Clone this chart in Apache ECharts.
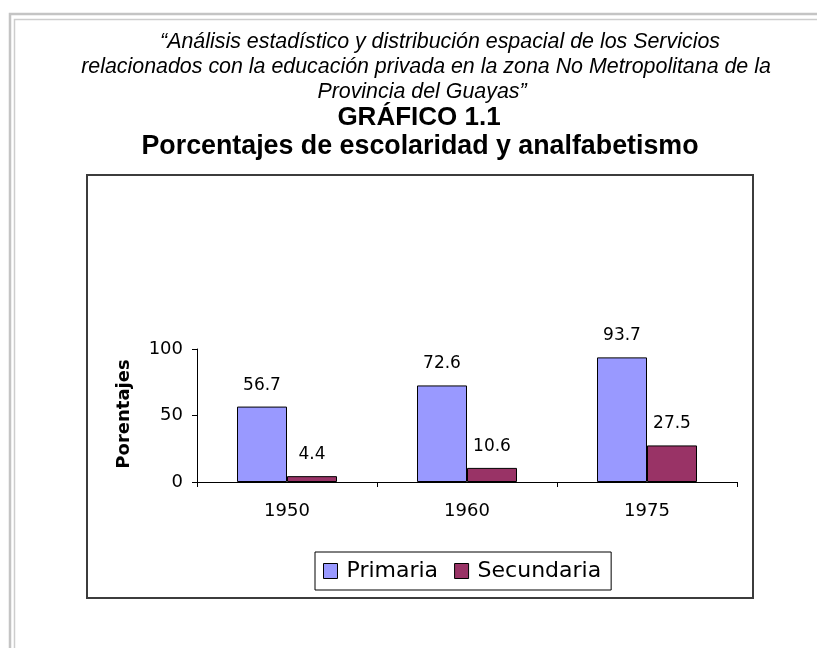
<!DOCTYPE html>
<html>
<head>
<meta charset="utf-8">
<script src="https://cdn.jsdelivr.net/npm/echarts@6/dist/echarts.min.js"></script>
<style>
html,body{margin:0;padding:0;background:#fff;}
#c{width:817px;height:648px;}
</style>
</head>
<body>
<div id="c"></div>
<script>
var categories = ['1950', '1960', '1975'];
var seriesNames = ['Primaria', 'Secundaria'];
var primaria = [56.7, 72.6, 93.7];
var secundaria = [4.4, 10.6, 27.5];
var yTicks = [0, 50, 100];
var titleLines = [
  '\u201CAn\u00E1lisis estad\u00EDstico y distribuci\u00F3n espacial de los Servicios',
  'relacionados con la educaci\u00F3n privada en la zona No Metropolitana de la',
  'Provincia del Guayas\u201D'
];
var heading1 = 'GR\u00C1FICO 1.1';
var heading2 = 'Porcentajes de escolaridad y analfabetismo';
var yTitle = 'Porentajes';

var chart = echarts.init(document.getElementById('c'), null, {renderer: 'canvas'});
var chartFont = 'DejaVu Sans';
var titleFont = '"Liberation Sans", Arial, sans-serif';

var option = {
  backgroundColor: '#ffffff',
  animation: false,
  graphic: [
    {type: 'polyline', shape: {points: [[10, 648], [10, 14], [817, 14]]}, style: {stroke: '#c4c4c4', lineWidth: 2.5, fill: null}, z: 1},
    {type: 'polyline', shape: {points: [[14.5, 648], [14.5, 19.5], [817, 19.5]]}, style: {stroke: '#cdcdcd', lineWidth: 1.5, fill: null}, z: 1},
    {type: 'rect', shape: {x: 87, y: 175, width: 666, height: 423}, style: {stroke: '#3c3c3c', lineWidth: 2, fill: null}, z: 1},
    {type: 'text', x: 440, y: 42, style: {text: titleLines[0], font: 'italic 21.4px ' + titleFont, fill: '#000', textAlign: 'center', textVerticalAlign: 'middle'}},
    {type: 'text', x: 426, y: 67, style: {text: titleLines[1], font: 'italic 21.4px ' + titleFont, fill: '#000', textAlign: 'center', textVerticalAlign: 'middle'}},
    {type: 'text', x: 422, y: 92, style: {text: titleLines[2], font: 'italic 21.4px ' + titleFont, fill: '#000', textAlign: 'center', textVerticalAlign: 'middle'}},
    {type: 'text', x: 419, y: 118, style: {text: heading1, font: 'bold 26px ' + titleFont, fill: '#000', textAlign: 'center', textVerticalAlign: 'middle'}},
    {type: 'text', x: 420, y: 147, style: {text: heading2, font: 'bold 26.8px ' + titleFont, fill: '#000', textAlign: 'center', textVerticalAlign: 'middle'}},
    {type: 'text', x: 124, y: 414, rotation: Math.PI / 2, style: {text: yTitle, font: 'bold 18px ' + chartFont, fill: '#000', textAlign: 'center', textVerticalAlign: 'middle'}}
  ],
  legend: {
    data: seriesNames,
    left: 315,
    top: 552,
    orient: 'horizontal',
    borderColor: '#000',
    borderWidth: 1,
    padding: [8, 10, 8, 8],
    itemWidth: 14,
    itemHeight: 15,
    itemGap: 16,
    icon: 'rect',
    itemStyle: {borderColor: '#000', borderWidth: 1},
    textStyle: {fontFamily: chartFont, fontSize: 22, color: '#000', padding: [0, 0, 0, 4]}
  },
  grid: {left: 197, right: 80, top: 349, bottom: 166, containLabel: false},
  xAxis: {
    type: 'category',
    data: categories,
    axisLine: {lineStyle: {color: '#000', width: 1}},
    axisTick: {show: true, alignWithLabel: false, length: 5, lineStyle: {color: '#000'}},
    axisLabel: {fontFamily: chartFont, fontSize: 18, color: '#000', margin: 20}
  },
  yAxis: {
    type: 'value',
    min: yTicks[0],
    max: yTicks[yTicks.length - 1],
    interval: yTicks[1] - yTicks[0],
    axisLine: {show: true, lineStyle: {color: '#000', width: 1}},
    axisTick: {show: true, length: 5, lineStyle: {color: '#000'}},
    splitLine: {show: false},
    axisLabel: {fontFamily: chartFont, fontSize: 18, color: '#000', margin: 14}
  },
  series: [
    {
      name: seriesNames[0], type: 'bar', data: primaria, barWidth: 50, barGap: '0%',
      itemStyle: {color: '#9999FF', borderColor: '#000', borderWidth: 1},
      label: {show: true, position: 'top', distance: 13, fontFamily: chartFont, fontSize: 17, color: '#000'}
    },
    {
      name: seriesNames[1], type: 'bar', data: secundaria, barWidth: 50, barGap: '0%',
      itemStyle: {color: '#993366', borderColor: '#000', borderWidth: 1},
      label: {show: true, position: 'top', distance: 13, fontFamily: chartFont, fontSize: 17, color: '#000'}
    }
  ]
};
chart.setOption(option);
</script>
</body>
</html>
